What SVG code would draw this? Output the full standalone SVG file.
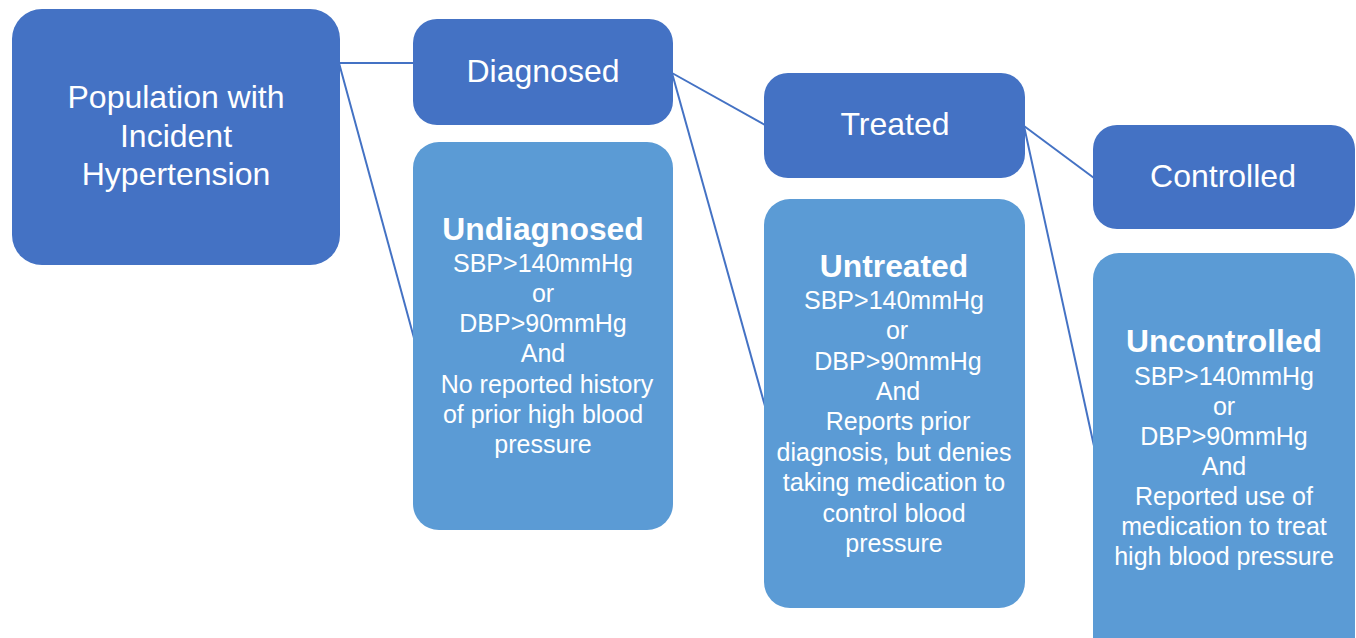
<svg xmlns="http://www.w3.org/2000/svg" width="1356" height="638" viewBox="0 0 1356 638">
<style>
.dark{fill:#4472C4}
.light{fill:#5B9BD5}
.conn{stroke:#4472C4;stroke-width:2;fill:none}
text{font-family:"Liberation Sans",Arial,sans-serif;fill:#ffffff;text-anchor:middle}
.big{font-size:32px}
.title{font-size:31.8px;font-weight:bold}
.body{font-size:25px}
</style>
<rect width="1356" height="638" fill="#ffffff"/>
<g id="connectors">
<line class="conn" x1="339" y1="63" x2="414" y2="63"/>
<line class="conn" x1="339" y1="63" x2="414" y2="338"/>
<line class="conn" x1="672" y1="73" x2="765" y2="125"/>
<line class="conn" x1="672" y1="73" x2="765" y2="406"/>
<line class="conn" x1="1024" y1="126" x2="1094" y2="178"/>
<line class="conn" x1="1024" y1="126" x2="1094" y2="446"/>
</g>
<g id="population">
<rect class="dark" x="12" y="9" width="328" height="256" rx="30"/>
<text class="big" x="176" y="108">Population with</text>
<text class="big" x="176" y="147">Incident</text>
<text class="big" x="176" y="185">Hypertension</text>
</g>
<g id="diagnosed">
<rect class="dark" x="413" y="19" width="260" height="106" rx="24"/>
<text class="big" x="543" y="82">Diagnosed</text>
</g>
<g id="undiagnosed">
<rect class="light" x="413" y="142" width="260" height="388" rx="26"/>
<text class="title" x="543" y="240">Undiagnosed</text>
<text class="body" x="543" y="272">SBP&gt;140mmHg</text>
<text class="body" x="543" y="302">or</text>
<text class="body" x="543" y="332">DBP&gt;90mmHg</text>
<text class="body" x="543" y="362">And</text>
<text class="body" x="547" y="393">No reported history</text>
<text class="body" x="543" y="423">of prior high blood</text>
<text class="body" x="543" y="453">pressure</text>
</g>
<g id="treated">
<rect class="dark" x="764" y="73" width="261" height="105" rx="24"/>
<text class="big" x="895" y="135">Treated</text>
</g>
<g id="untreated">
<rect class="light" x="764" y="199" width="261" height="409" rx="26"/>
<text class="title" x="894" y="277">Untreated</text>
<text class="body" x="894" y="309">SBP&gt;140mmHg</text>
<text class="body" x="897" y="339">or</text>
<text class="body" x="898" y="370">DBP&gt;90mmHg</text>
<text class="body" x="898" y="400">And</text>
<text class="body" x="898" y="430">Reports prior</text>
<text class="body" x="894" y="461">diagnosis, but denies</text>
<text class="body" x="894" y="491">taking medication to</text>
<text class="body" x="894" y="522">control blood</text>
<text class="body" x="894" y="552">pressure</text>
</g>
<g id="controlled">
<rect class="dark" x="1093" y="125" width="262" height="104" rx="24"/>
<text class="big" x="1223" y="187">Controlled</text>
</g>
<g id="uncontrolled">
<rect class="light" x="1093" y="253" width="262" height="410" rx="26"/>
<text class="title" x="1224" y="352">Uncontrolled</text>
<text class="body" x="1224" y="385">SBP&gt;140mmHg</text>
<text class="body" x="1224" y="415">or</text>
<text class="body" x="1224" y="445">DBP&gt;90mmHg</text>
<text class="body" x="1224" y="475">And</text>
<text class="body" x="1224" y="505">Reported use of</text>
<text class="body" x="1224" y="535">medication to treat</text>
<text class="body" x="1224" y="565">high blood pressure</text>
</g>
</svg>
